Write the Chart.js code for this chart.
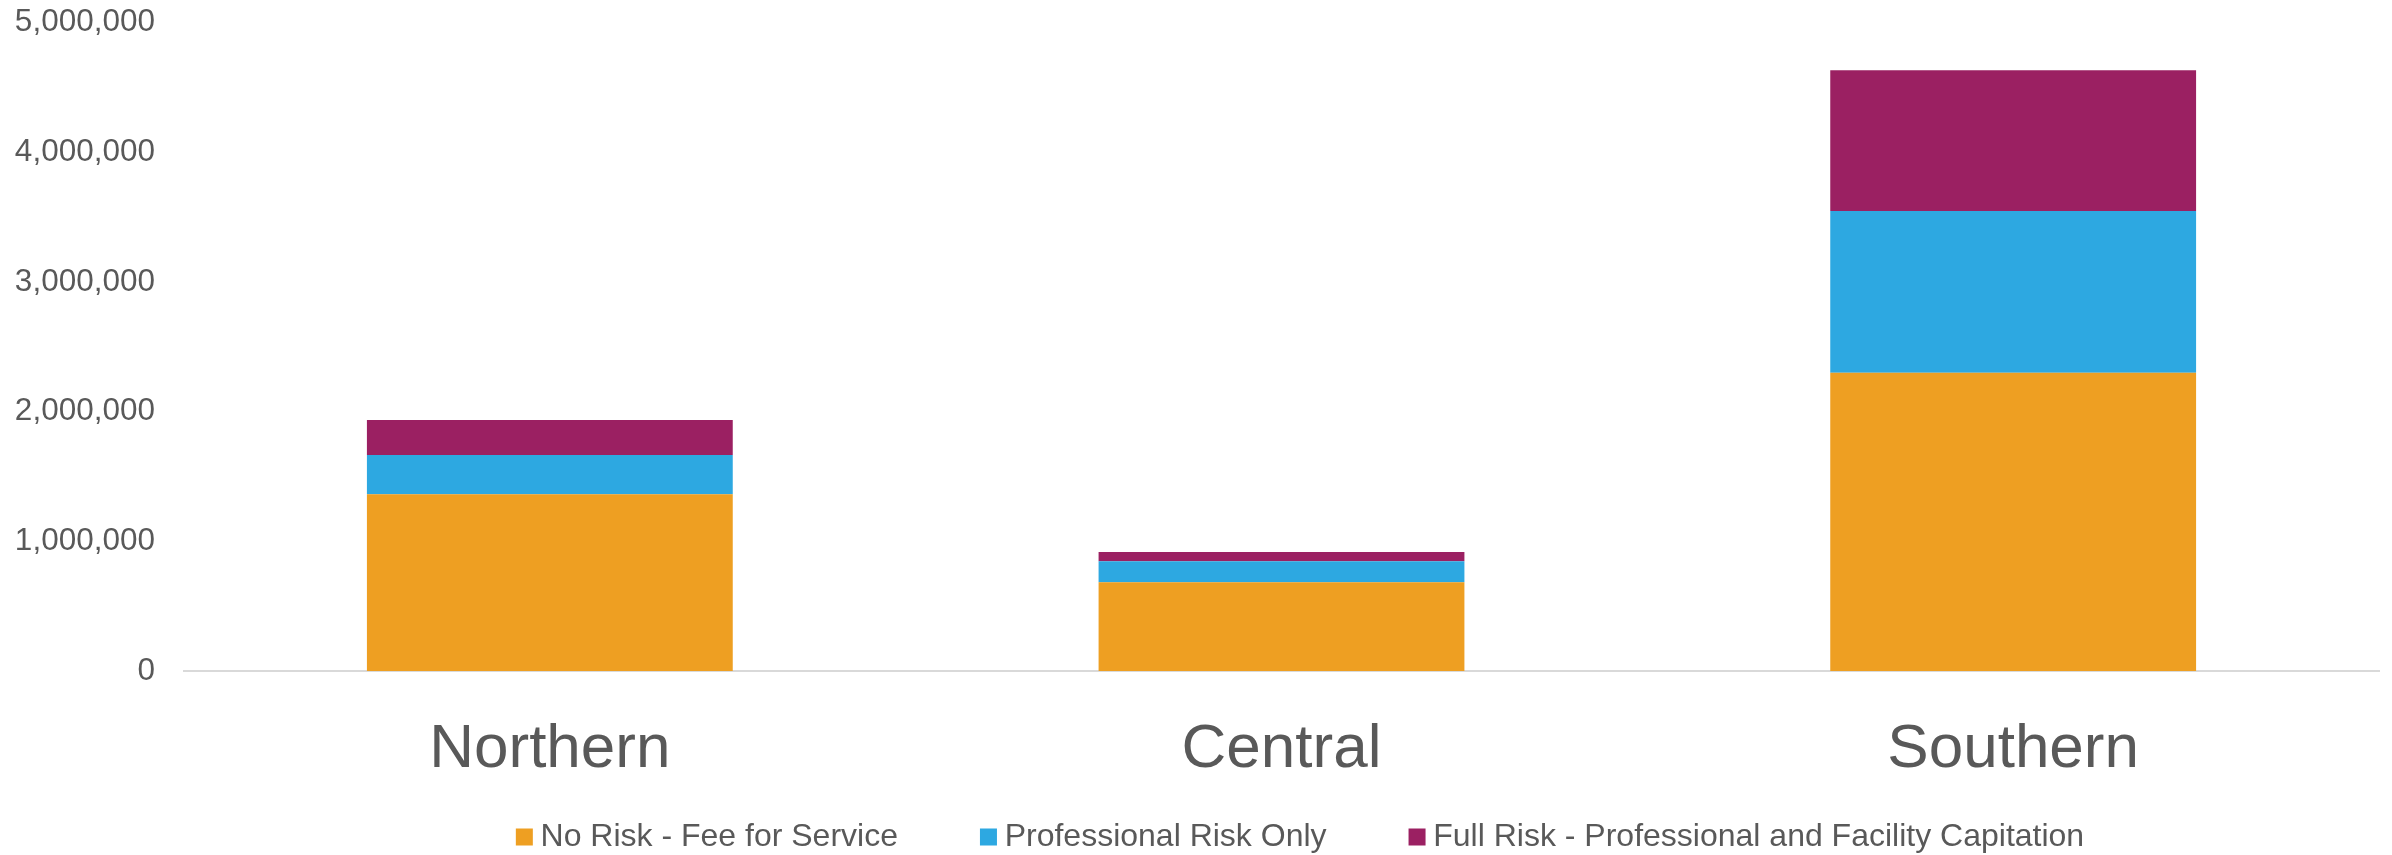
<!DOCTYPE html>
<html>
<head>
<meta charset="utf-8">
<script src="https://cdn.jsdelivr.net/npm/chart.js@4/dist/chart.umd.min.js"></script>
<style>
  html, body { margin:0; padding:0; background:#fff; }
  #wrap { width:2392px; height:855px; }
</style>
</head>
<body>
<div id="wrap"><canvas id="riskChart" width="2392" height="855"></canvas></div>
<script>
const regions = ["Northern", "Central", "Southern"];
const noRisk = [1362000, 684000, 2300000];
const professionalRisk = [303000, 162000, 1247000];
const fullRisk = [270000, 71000, 1085000];
const yTicks = [0, 1000000, 2000000, 3000000, 4000000, 5000000];

const TEXT = "#595959";
const FONT = "'Liberation Sans', Arial, sans-serif";

// legend row under the x labels: square swatch + label, left to right
const bottomLegend = {
  id: "bottomLegend",
  afterDraw(chart){
    const ctx = chart.ctx;
    const size = 32, box = 17, gap = 24.7, spacing = 82, centerX = 1300, y = 837;
    ctx.save();
    ctx.font = `${size}px ${FONT}`;
    ctx.textBaseline = "middle";
    ctx.textAlign = "left";
    const items = chart.data.datasets.map(ds => ({ text: ds.label, color: ds.backgroundColor, w: ctx.measureText(ds.label).width }));
    const total = items.reduce((s, it) => s + gap + it.w, 0) + spacing * (items.length - 1);
    let x = centerX - total / 2;
    items.forEach(it => {
      ctx.fillStyle = it.color;
      ctx.fillRect(x, y - box / 2, box, box);
      ctx.fillStyle = TEXT;
      ctx.fillText(it.text, x + gap, y);
      x += gap + it.w + spacing;
    });
    ctx.restore();
  }
};

new Chart(document.getElementById("riskChart"), {
  type: "bar",
  data: {
    labels: regions,
    datasets: [
      { label: "No Risk - Fee for Service", data: noRisk, backgroundColor: "#EE9F22" },
      { label: "Professional Risk Only", data: professionalRisk, backgroundColor: "#2DA8E1" },
      { label: "Full Risk - Professional and Facility Capitation", data: fullRisk, backgroundColor: "#9B2062" },
    ]
  },
  options: {
    responsive: false,
    devicePixelRatio: 1,
    animation: false,
    layout: { padding: { top: 22.5, right: 13, bottom: 72.6, left: 0 } },
    datasets: { bar: { categoryPercentage: 0.5, barPercentage: 1, borderWidth: 0 } },
    plugins: { legend: { display: false }, tooltip: { enabled: false } },
    scales: {
      x: {
        stacked: true,
        grid: { display: false, drawTicks: false },
        border: { display: true, color: "#D9D9D9", width: 2 },
        afterFit: scale => { scale.height = 111.4; },
        ticks: { color: TEXT, font: { family: FONT, size: 62 }, padding: 41.5, maxRotation: 0 }
      },
      y: {
        stacked: true,
        min: yTicks[0],
        max: yTicks[yTicks.length - 1],
        afterBuildTicks: scale => { scale.ticks = yTicks.map(v => ({ value: v })); },
        afterFit: scale => { scale.width = 184; scale.paddingTop = 0; scale.paddingBottom = 0; },
        grid: { display: false, drawTicks: false },
        border: { display: false },
        ticks: {
          color: TEXT,
          font: { family: FONT, size: 31.5 },
          padding: 29,
          callback: v => Number(v).toLocaleString("en-US")
        }
      }
    }
  },
  plugins: [bottomLegend]
});
</script>
</body>
</html>
